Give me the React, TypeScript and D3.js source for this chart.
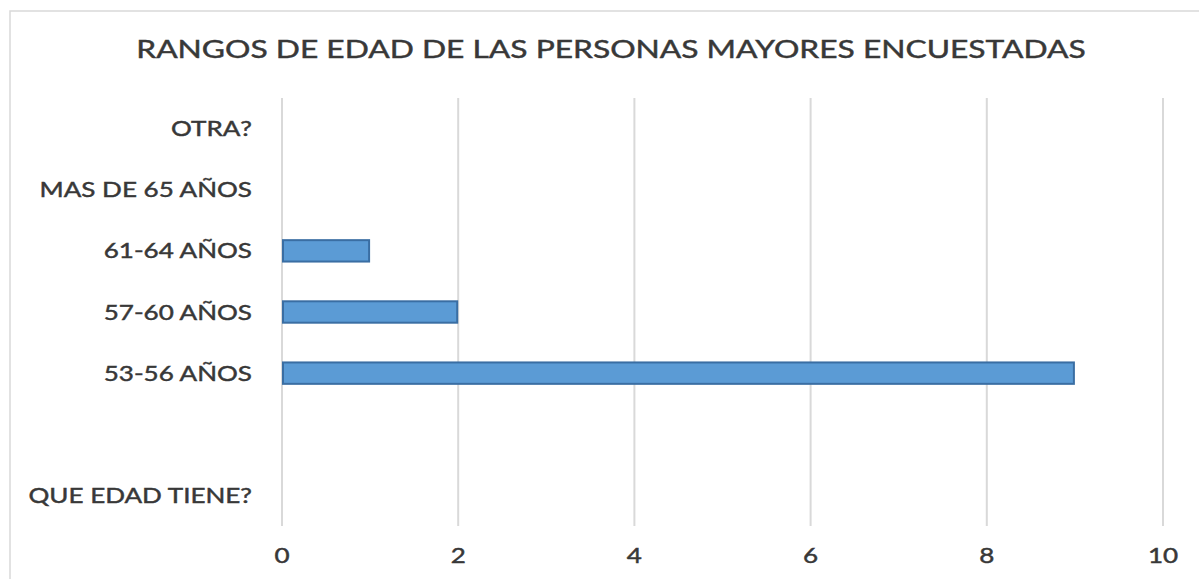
import React from "react";
import * as d3 from "d3";

const TITLE = "RANGOS DE EDAD DE LAS PERSONAS MAYORES ENCUESTADAS";
const categories = ["OTRA?", "MAS DE 65 AÑOS", "61-64 AÑOS", "57-60 AÑOS", "53-56 AÑOS", "", "QUE EDAD TIENE?"];
const values = [0, 0, 1, 2, 9, 0, 0];
const xTicks = [0, 2, 4, 6, 8, 10];

const W = 1199;
const H = 579;
const FONT = "Lato, 'Open Sans', sans-serif";
const TEXT = "#383838";
const SX = 1.24;

export default function App() {
  const x = d3.scaleLinear().domain([0, 10]).range([282, 1163]);
  const y = d3
    .scaleBand<number>()
    .domain(categories.map((_, i) => i))
    .range([98, 526])
    .padding(0);
  const barH = y.bandwidth() * 0.35;
  const catFs = 21;
  const tickFs = 21;
  const titleFs = 25;
  const textStroke = { stroke: TEXT, strokeWidth: 0.45 };

  return (
    <svg
      width={W}
      height={H}
      style={{ position: "absolute", left: 0, top: 0, background: "#fff" }}
    >
      <rect x={10} y={11} width={W + 20} height={H + 20} fill="#fff" stroke="#d9d9d9" strokeWidth={1.5} />
      <g transform={`translate(611,58) scale(1.27,1)`}>
        <text x={0} y={0} textAnchor="middle" fontFamily={FONT} fontSize={titleFs} fill={TEXT} {...textStroke}>
          {TITLE}
        </text>
      </g>
      {xTicks.map((t) => (
        <line key={"g" + t} x1={x(t)} x2={x(t)} y1={98} y2={526} stroke="#d9d9d9" strokeWidth={2} />
      ))}
      {xTicks.map((t) => (
        <g key={"t" + t} transform={`translate(${x(t)},${563}) scale(${SX},1)`}>
          <text textAnchor="middle" fontFamily={FONT} fontSize={tickFs} fill={TEXT} {...textStroke}>
            {t}
          </text>
        </g>
      ))}
      {categories.map((c, i) => {
        const cy = (y(i) as number) + y.bandwidth() / 2;
        return (
          <g key={"c" + i} transform={`translate(252,${cy + catFs * 0.36}) scale(${SX},1)`}>
            <text textAnchor="end" fontFamily={FONT} fontSize={catFs} fill={TEXT} {...textStroke}>
              {c}
            </text>
          </g>
        );
      })}
      {values.map((v, i) =>
        v > 0 ? (
          <rect
            key={"b" + i}
            x={x(0) + 1}
            y={(y(i) as number) + y.bandwidth() / 2 - barH / 2}
            width={x(v) - x(0) - 2}
            height={barH}
            fill="#5B9BD5"
            stroke="#3A6EA3"
            strokeWidth={2}
          />
        ) : null
      )}
    </svg>
  );
}
